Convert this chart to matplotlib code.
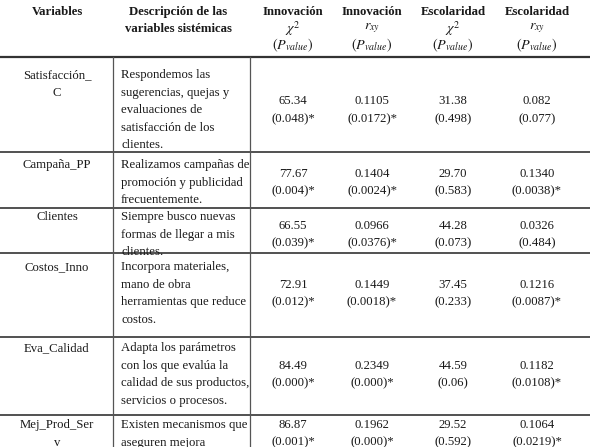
import matplotlib
matplotlib.use("Agg")
import matplotlib.pyplot as plt

plt.rcParams['font.family'] = ['Liberation Serif', 'DejaVu Serif']
plt.rcParams['mathtext.fontset'] = 'stix'

headers = ["Variables", "Descripción de las\nvariables sistémicas",
           "Innovación\n$\\chi^2$\n$(P_{value})$", "Innovación\n$r_{xy}$\n$(P_{value})$",
           "Escolaridad\n$\\chi^2$\n$(P_{value})$", "Escolaridad\n$r_{xy}$\n$(P_{value})$"]
variables = ["Satisfacción_\nC", "Campaña_PP", "Clientes", "Costos_Inno", "Eva_Calidad", "Mej_Prod_Ser\nv"]
descriptions = [
    ["Respondemos las", "sugerencias, quejas y", "evaluaciones de", "satisfacción de los", "clientes."],
    ["Realizamos campañas de", "promoción y publicidad", "frecuentemente."],
    ["Siempre busco nuevas", "formas de llegar a mis", "clientes."],
    ["Incorpora materiales,", "mano de obra", "herramientas que reduce", "costos."],
    ["Adapta los parámetros", "con los que evalúa la", "calidad de sus productos,", "servicios o procesos."],
    ["Existen mecanismos que", "aseguren mejora"],
]
innov_chi = ["65.34", "77.67", "66.55", "72.91", "84.49", "86.87"]
innov_chi_p = ["(0.048)*", "(0.004)*", "(0.039)*", "(0.012)*", "(0.000)*", "(0.001)*"]
innov_r = ["0.1105", "0.1404", "0.0966", "0.1449", "0.2349", "0.1962"]
innov_r_p = ["(0.0172)*", "(0.0024)*", "(0.0376)*", "(0.0018)*", "(0.000)*", "(0.000)*"]
esc_chi = ["31.38", "29.70", "44.28", "37.45", "44.59", "29.52"]
esc_chi_p = ["(0.498)", "(0.583)", "(0.073)", "(0.233)", "(0.06)", "(0.592)"]
esc_r = ["0.082", "0.1340", "0.0326", "0.1216", "0.1182", "0.1064"]
esc_r_p = ["(0.077)", "(0.0038)*", "(0.484)", "(0.0087)*", "(0.0108)*", "(0.0219)*"]

fig = plt.figure(figsize=(5.9, 4.47), dpi=100)
ax = fig.add_axes([0, 0, 1, 1])
ax.set_xlim(0, 590); ax.set_ylim(447, 0); ax.axis('off')

fs = 9.2
col_x = [57, 178, 293, 372, 453, 537]
row_bounds = [57, 152, 208, 253, 337, 415, 447]
start_off = [18, 13, 9, 14, 11, 10]
lh = 17.6
col = '#1a1a1a'

for i, h in enumerate(headers):
    lines = h.split("\n")
    for j, ln in enumerate(lines):
        bold = (j == 0) or (i == 1)
        size = fs + 1 if (j > 0 and i >= 2) else fs
        ax.text(col_x[i], 12 + j * 16.5, ln, ha='center', va='center', fontsize=size,
                fontweight='bold' if bold else 'normal', color=col)
ax.plot([0, 590], [row_bounds[0], row_bounds[0]], color='#333', lw=1.6)
for yb in row_bounds[1:-1]:
    ax.plot([0, 590], [yb, yb], color='#333', lw=1.2)
for xv in [113, 250]:
    ax.plot([xv, xv], [row_bounds[0], 447], color='#555', lw=0.9)

for r in range(6):
    top = row_bounds[r]
    ytop = top + start_off[r]
    for j, ln in enumerate(variables[r].split("\n")):
        ax.text(col_x[0], ytop + j * lh, ln, ha='center', va='center', fontsize=fs, color=col)
    for j, ln in enumerate(descriptions[r]):
        ax.text(121, ytop + j * lh, ln, ha='left', va='center', fontsize=fs, color=col)
    if r == 5:
        mid = ytop + lh / 2
    else:
        mid = ytop + (len(descriptions[r]) - 1) * lh / 2
    vals = [(innov_chi, innov_chi_p), (innov_r, innov_r_p), (esc_chi, esc_chi_p), (esc_r, esc_r_p)]
    for k, (v, p) in enumerate(vals):
        ax.text(col_x[k + 2], mid - lh / 2, v[r], ha='center', va='center', fontsize=fs, color=col)
        ax.text(col_x[k + 2], mid + lh / 2, p[r], ha='center', va='center', fontsize=fs, color=col)

fig.savefig("out.png", dpi=100)
